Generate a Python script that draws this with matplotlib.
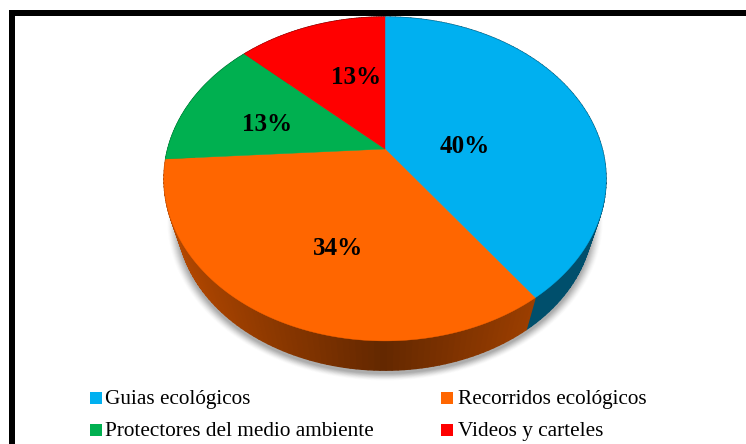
import matplotlib
matplotlib.use('Agg')
import matplotlib.pyplot as plt
from matplotlib.collections import PolyCollection
from matplotlib.colors import to_rgb
from matplotlib.patches import Rectangle
import numpy as np

# datos
categorias = ['Guias ecológicos', 'Recorridos ecológicos', 'Protectores del medio ambiente', 'Videos y carteles']
valores = [40, 34, 13, 13]
colores = ['#00B0F0', '#FF6600', '#00B050', '#FF0000']
etiquetas = ['40%', '34%', '13%', '13%']

# pie geometry in pixels (perspective view)
CX, CY = 385, 149
A, B, K = 217.2, 156.4, 0.185
ELL_CY = 179
DEPTH_S, DEPTH_CY = 0.94, 218


def proyectar(theta):
    u, v = np.sin(theta), np.cos(theta)
    d = 1 + K * v
    return CX + A * u / d, CY - B * v / d


def bajar(x, y):
    return CX + DEPTH_S * (x - CX), DEPTH_CY + DEPTH_S * (y - ELL_CY)


plt.rcParams['font.family'] = ['Liberation Serif', 'DejaVu Serif']
fig = plt.figure(figsize=(7.46, 4.44), dpi=100)
ax = fig.add_axes([0, 0, 1, 1])
ax.set_xlim(0, 746)
ax.set_ylim(444, 0)
ax.axis('off')

# marco negro
ax.add_patch(Rectangle((9, 10), 6, 440, color='black', lw=0))
ax.add_patch(Rectangle((9, 10), 740, 6, color='black', lw=0))

# sombra difusa
t = np.linspace(0, 2 * np.pi, 300)
for extra, alpha in zip(np.arange(10, 0, -1), np.linspace(0.02, 0.10, 10)):
    xs, ys = proyectar(t)
    xs, ys = bajar(xs, ys)
    ax.fill(CX + (xs - CX) * (1 + extra / 210), ys + (ys - DEPTH_CY) * extra / 210 + 3,
            color='#555555', alpha=alpha, lw=0, zorder=1)

bordes = np.cumsum([0] + valores) / sum(valores) * 2 * np.pi

# pared lateral, con gradiente segun el angulo
for i, color in enumerate(colores):
    th = np.linspace(bordes[i], bordes[i + 1], 90)
    x0, y0 = proyectar(th)
    x1, y1 = bajar(x0, y0)
    polys, cols = [], []
    base = np.array(to_rgb(color))
    for j in range(len(th) - 1):
        polys.append([(x0[j], y0[j]), (x0[j + 1], y0[j + 1]), (x1[j + 1], y1[j + 1]), (x1[j], y1[j])])
        # mas oscuro hacia el frente; el azul casi no cambia
        if i == 0:
            f = 0.45
        else:
            f = 0.39 + 0.32 * abs(x0[j] - CX) / 221
        cols.append(base * f)
    ax.add_collection(PolyCollection(polys, facecolors=cols, edgecolors=cols, linewidths=1.0, zorder=2))

# cara superior
for i, color in enumerate(colores):
    th = np.linspace(bordes[i], bordes[i + 1], 200)
    x, y = proyectar(th)
    ax.fill(np.r_[CX, x], np.r_[CY, y], color=color, lw=0.3, zorder=3)

pos_etiquetas = [(465, 146), (338, 248), (267, 124), (356, 77)]
for txt, (x, y) in zip(etiquetas, pos_etiquetas):
    ax.text(x, y, txt, fontsize=18, fontweight='bold', ha='center', va='center', zorder=4)

# leyenda
pos_leyenda = [(90, 398), (441, 398), (90, 430), (441, 430)]
pos_texto = [105, 458, 105, 458]
for nombre, color, (x, y), xt in zip(categorias, colores, pos_leyenda, pos_texto):
    ax.add_patch(Rectangle((x, y - 6), 12, 12, color=color, lw=0))
    ax.text(xt, y + 1, nombre, fontsize=15.3, ha='left', va='center', color='black')

fig.savefig('out.png', dpi=100)
